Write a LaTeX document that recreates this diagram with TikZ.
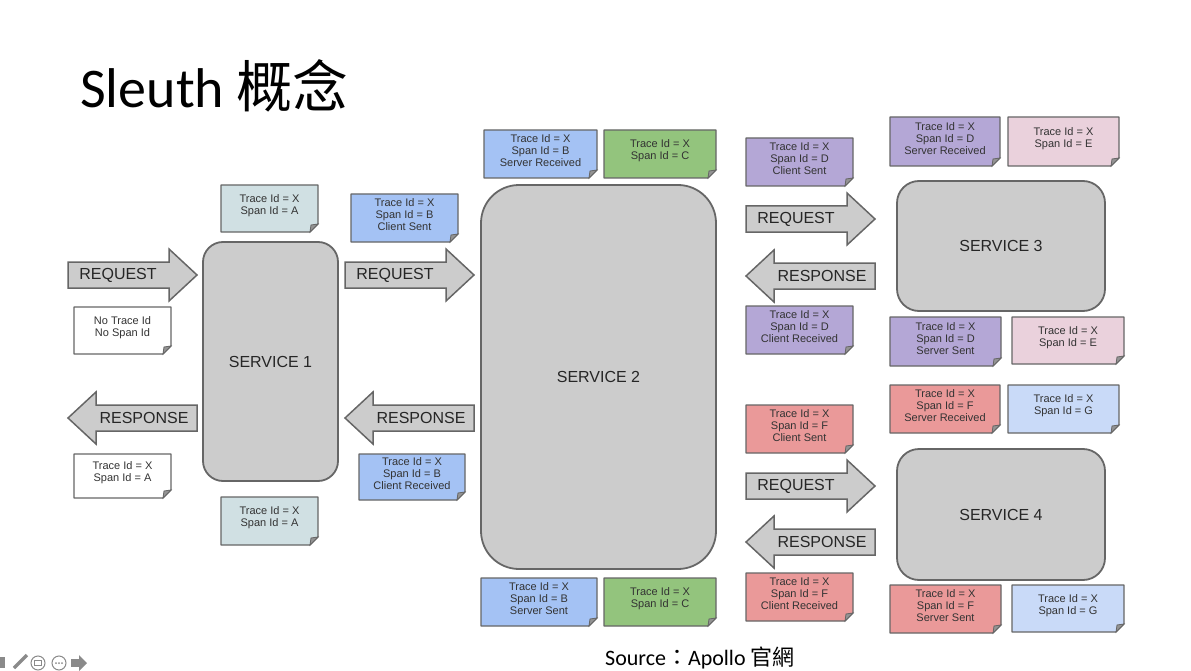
\documentclass[tikz,border=0pt]{standalone}
\usepackage{fontspec}
\setmainfont{Liberation Sans}
\newfontfamily\titlefont{Carlito}
\newfontfamily\cjk{Noto Sans CJK TC}

\definecolor{edgegray}{HTML}{666666}
\definecolor{boxgray}{HTML}{CCCCCC}
\definecolor{icongray}{HTML}{8A8A8A}
\definecolor{notea}{HTML}{D0E0E3}
\definecolor{noteb}{HTML}{A4C2F4}
\definecolor{notec}{HTML}{93C47D}
\definecolor{noted}{HTML}{B4A7D6}
\definecolor{notee}{HTML}{EAD1DC}
\definecolor{notef}{HTML}{EA9999}
\definecolor{noteg}{HTML}{C9DAF8}

% name, x1, y1, x2, y2, colour, text
\newcommand{\spannote}[7]{%
  \filldraw[notebox, fill=#6] (#2,#3) -- (#4,#3) -- (#4,#5-8) -- (#4-8,#5) -- (#2,#5) -- cycle;
  \filldraw[notefold] (#4,#5-8) -- (#4-8,#5) -- (#4-7,#5-7) -- cycle;
  \node[notetext] (#1) at ({(#2+#4)/2},{(#3+#5)/2-3}) {#7};}
% name, left x, centre y
\newcommand{\reqarrow}[3]{%
  \filldraw[blockarrow] (#2,#3-13) -- (#2+101,#3-13) -- (#2+101,#3-26) -- (#2+129,#3)
    -- (#2+101,#3+26) -- (#2+101,#3+13) -- (#2,#3+13) -- cycle;
  \node[arrowlabel] (#1) at (#2+50,#3) {REQUEST};}
% name, tip x, centre y
\newcommand{\resparrow}[3]{%
  \filldraw[blockarrow] (#2,#3) -- (#2+28,#3-26) -- (#2+28,#3-13) -- (#2+129,#3-13)
    -- (#2+129,#3+13) -- (#2+28,#3+13) -- (#2+28,#3+26) -- cycle;
  \node[arrowlabel] (#1) at (#2+76,#3) {RESPONSE};}

\begin{document}
\begin{tikzpicture}
    [
        x = 1pt, y = -1pt,
        service/.style   = {draw=edgegray, fill=boxgray, line width=1.8pt, font=\fontsize{16}{16}\selectfont, text=black!85},
        notebox/.style   = {draw=edgegray, line width=1.3pt, line join=round},
        notefold/.style  = {draw=edgegray, fill=edgegray!70, line width=0.8pt},
        notetext/.style  = {align=center, inner sep=0pt, font=\fontsize{11}{12}\selectfont, text=black!80},
        blockarrow/.style = {draw=edgegray, fill=boxgray, line width=1.5pt, line join=miter},
        arrowlabel/.style = {inner sep=0pt, font=\fontsize{16}{16}\selectfont, text=black!85}
    ]
    \useasboundingbox (0,0) rectangle (1191,671);

    \node [anchor=base west, inner sep=0pt, font=\titlefont\fontsize{56}{56}\selectfont] (title) at (80,108) {Sleuth {\cjk 概念}};

    \node [service, minimum width=135pt, minimum height=239pt, rounded corners=20pt] (service1) at (270.5,361.5) {SERVICE 1};
    \node [service, minimum width=235pt, minimum height=384pt, rounded corners=38pt] (service2) at (598.5,377) {SERVICE 2};
    \node [service, minimum width=208pt, minimum height=130pt, rounded corners=22pt] (service3) at (1001,246) {SERVICE 3};
    \node [service, minimum width=208pt, minimum height=131pt, rounded corners=22pt] (service4) at (1001,514.5) {SERVICE 4};

    \reqarrow{req1}{68}{275}
    \resparrow{resp1}{68}{418}
    \reqarrow{req2}{345}{275}
    \resparrow{resp2}{345}{418}
    \reqarrow{req3}{746}{219}
    \resparrow{resp3}{746}{276}
    \reqarrow{req4}{746}{486}
    \resparrow{resp4}{746}{542}

    \spannote{spanAin}{221}{185}{318}{232}{notea}{Trace Id = X\\Span Id = A}
    \spannote{noSpan}{74}{307}{171}{354}{white}{No Trace Id\\No Span Id}
    \spannote{spanAback}{74}{454}{171}{498}{white}{Trace Id = X\\Span Id = A}
    \spannote{spanAout}{221}{497}{318}{545}{notea}{Trace Id = X\\Span Id = A}

    \spannote{spanBcs}{351}{194}{458}{242}{noteb}{Trace Id = X\\Span Id = B\\Client Sent}
    \spannote{spanBcr}{359}{454}{465}{500}{noteb}{Trace Id = X\\Span Id = B\\Client Received}
    \spannote{spanBsr}{484}{130}{597}{178}{noteb}{Trace Id = X\\Span Id = B\\Server Received}
    \spannote{spanCin}{604}{130}{716}{178}{notec}{Trace Id = X\\Span Id = C}
    \spannote{spanBss}{481}{578}{597}{626}{noteb}{Trace Id = X\\Span Id = B\\Server Sent}
    \spannote{spanCout}{604}{578}{716}{626}{notec}{Trace Id = X\\Span Id = C}

    \spannote{spanDcs}{746}{138}{853}{186}{noted}{Trace Id = X\\Span Id = D\\Client Sent}
    \spannote{spanDcr}{746}{306}{853}{354}{noted}{Trace Id = X\\Span Id = D\\Client Received}
    \spannote{spanDsr}{890}{117}{1000}{166}{noted}{Trace Id = X\\Span Id = D\\Server Received}
    \spannote{spanEin}{1008}{117}{1119}{166}{notee}{Trace Id = X\\Span Id = E}
    \spannote{spanDss}{890}{317}{1001}{366}{noted}{Trace Id = X\\Span Id = D\\Server Sent}
    \spannote{spanEout}{1012}{317}{1124}{364}{notee}{Trace Id = X\\Span Id = E}

    \spannote{spanFcs}{746}{405}{853}{453}{notef}{Trace Id = X\\Span Id = F\\Client Sent}
    \spannote{spanFcr}{746}{573}{853}{621}{notef}{Trace Id = X\\Span Id = F\\Client Received}
    \spannote{spanFsr}{890}{385}{1000}{433}{notef}{Trace Id = X\\Span Id = F\\Server Received}
    \spannote{spanGin}{1008}{385}{1119}{433}{noteg}{Trace Id = X\\Span Id = G}
    \spannote{spanFss}{890}{585}{1001}{633}{notef}{Trace Id = X\\Span Id = F\\Server Sent}
    \spannote{spanGout}{1012}{585}{1124}{632}{noteg}{Trace Id = X\\Span Id = G}

    \node [anchor=base west, inner sep=0pt, font=\titlefont\fontsize{22}{22}\selectfont] (source) at (605,665) {Source{\cjk ：}Apollo {\cjk 官網}};

    \fill [icongray] (0,657) rectangle (5,668);
    \draw [icongray, line width=3.5pt] (14,668) -- (27,655);
    \draw [icongray, line width=1pt] (38,663) circle [radius=7pt];
    \draw [icongray, line width=0.8pt] (34.5,660.5) rectangle (41.5,665.5);
    \draw [icongray, line width=1pt] (59,663) circle [radius=7pt];
    \foreach \dx in {-3,0,3}
        \fill [icongray] (59+\dx,663) circle [radius=1pt];
    \fill [icongray] (71,659) rectangle (79,667);
    \fill [icongray] (79,655) -- (87,663) -- (79,671) -- cycle;
\end{tikzpicture}
\end{document}
